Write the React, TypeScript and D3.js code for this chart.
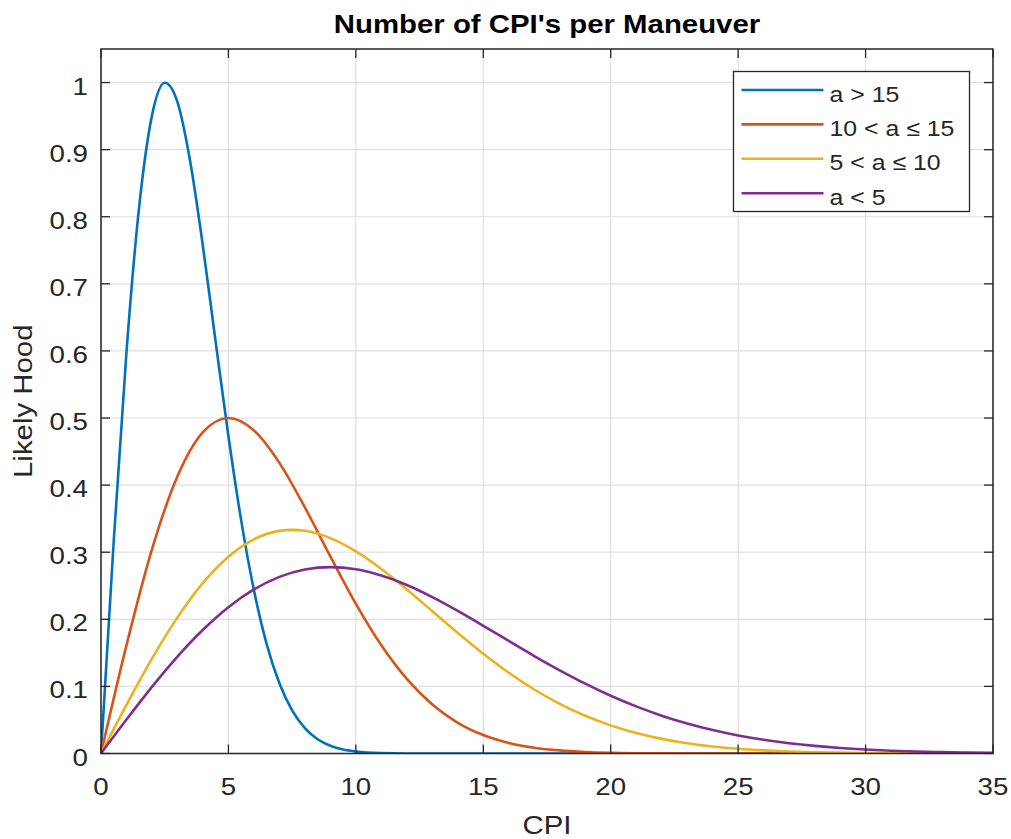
import React from 'react';
import * as d3 from 'd3';

// ---- data ----
const seriesNames = ['a > 15', '10 < a \u2264 15', '5 < a \u2264 10', 'a < 5'];
const seriesColors = ['#0072BD', '#D95319', '#EDB120', '#7E2F8E'];

const blueX = [0, 0.5, 1, 1.5, 2, 2.5, 3, 3.5, 4, 4.5, 5, 5.5, 6, 6.5, 7, 7.5, 8, 8.5, 9, 9.5, 10, 11, 12, 15, 20, 25, 30, 35];
const blueY = [0, 0.3171, 0.5987, 0.8158, 0.9507, 0.9996, 0.9709, 0.8823, 0.7558, 0.6132, 0.4728, 0.3474, 0.2435, 0.1631, 0.1046, 0.0642, 0.0377, 0.0212, 0.0115, 0.0059, 0.003, 0.0006, 0.0001, 0, 0, 0, 0, 0];

const orangeX = [0, 1, 2, 3, 4, 5, 6, 7, 8, 9, 10, 11, 12, 13, 14, 15, 16, 17, 18, 19, 20, 22, 25, 30, 35];
const orangeY = [0, 0.1616, 0.3044, 0.4131, 0.4789, 0.5, 0.4815, 0.4332, 0.3667, 0.2937, 0.2231, 0.1613, 0.1111, 0.073, 0.0458, 0.0275, 0.0158, 0.0087, 0.0046, 0.0023, 0.0011, 0.0002, 0, 0, 0];

const yellowX = [0, 1, 2, 3, 4, 5, 6, 7, 7.5, 8, 9, 10, 11, 12, 13, 14, 15, 16, 17, 18, 19, 20, 21, 22, 23, 24, 25, 26, 27, 28, 30, 32, 35];
const yellowY = [0, 0.0726, 0.1414, 0.2029, 0.2543, 0.2934, 0.3192, 0.3318, 0.3333, 0.3319, 0.321, 0.3012, 0.275, 0.2445, 0.2121, 0.1797, 0.1488, 0.1204, 0.0954, 0.074, 0.0562, 0.0419, 0.0305, 0.0218, 0.0153, 0.0105, 0.0071, 0.0047, 0.003, 0.0019, 0.0007, 0.0003, 0.0001];

const purpleX = [0, 1, 2, 3, 4, 5, 6, 7, 8, 9, 10, 11, 12, 13, 14, 15, 16, 17, 18, 19, 20, 21, 22, 23, 24, 25, 26, 27, 28, 29, 30, 31, 32, 33, 34, 35];
const purpleY = [0, 0.0506, 0.0993, 0.1444, 0.1844, 0.2181, 0.2445, 0.2633, 0.2742, 0.2778, 0.2745, 0.2652, 0.2511, 0.2331, 0.2125, 0.1903, 0.1677, 0.1453, 0.124, 0.1041, 0.0861, 0.0702, 0.0564, 0.0447, 0.0349, 0.0268, 0.0204, 0.0153, 0.0113, 0.0082, 0.0059, 0.0042, 0.0029, 0.002, 0.0014, 0.0009];

const xTicks = [0, 5, 10, 15, 20, 25, 30, 35];
const xTickLabels = ['0', '5', '10', '15', '20', '25', '30', '35'];
const yTicks = [0, 0.1, 0.2, 0.3, 0.4, 0.5, 0.6, 0.7, 0.8, 0.9, 1];
const yTickLabels = ['0', '0.1', '0.2', '0.3', '0.4', '0.5', '0.6', '0.7', '0.8', '0.9', '1'];

const titleText = "Number of CPI's per Maneuver";
const xLabelText = 'CPI';
const yLabelText = 'Likely Hood';

// ---- layout ----
const W = 1011;
const H = 839;
const L = 101, R = 993, T = 49, B = 753.5;
const FONT = '"Liberation Sans", Arial, Helvetica, sans-serif';
const INK = '#262626';
const SX = 1.13;

const xs = d3.scaleLinear().domain([0, 35]).range([L, R]);
const ys = d3.scaleLinear().domain([0, 1.05]).range([B, T]);

function Txt(props: { x: number; y: number; text: string; size: number; weight?: string; anchor?: string; rotate?: number; fill?: string }) {
  const { x, y, text, size, weight = 'normal', anchor = 'start', rotate = 0, fill = INK } = props;
  return (
    <text
      transform={`translate(${x},${y}) rotate(${rotate}) scale(${SX},1)`}
      fontFamily={FONT}
      fontSize={size}
      fontWeight={weight}
      textAnchor={anchor}
      fill={fill}
    >
      {text}
    </text>
  );
}

export default function App() {
  const series = [
    { xs: blueX, ys: blueY },
    { xs: orangeX, ys: orangeY },
    { xs: yellowX, ys: yellowY },
    { xs: purpleX, ys: purpleY },
  ];
  const line = d3
    .line<[number, number]>()
    .x((d) => xs(d[0]))
    .y((d) => ys(d[1]))
    .curve(d3.curveMonotoneX);

  const tickLen = 9;
  const legX = 733.5, legY = 71.5, legW = 236, legH = 140;
  const rowY = (i: number) => 90 + i * 34.4;

  return (
    <svg width={W} height={H} style={{ position: 'absolute', left: 0, top: 0, display: 'block', background: '#fff' }}>
      <rect x={0} y={0} width={W} height={H} fill="#fff" />
      <defs>
        <clipPath id="plotclip">
          <rect x={L} y={T} width={R - L} height={B - T} />
        </clipPath>
      </defs>
      {/* grid */}
      <g stroke="#dfdfdf" strokeWidth={1.2}>
        {xTicks.map((t) => (
          <line key={'gx' + t} x1={xs(t)} x2={xs(t)} y1={T} y2={B} />
        ))}
        {yTicks.map((t) => (
          <line key={'gy' + t} x1={L} x2={R} y1={ys(t)} y2={ys(t)} />
        ))}
      </g>
      {/* curves */}
      <g clipPath="url(#plotclip)" fill="none" strokeWidth={2.6} strokeLinejoin="round">
        {series.map((s, i) => (
          <path
            key={i}
            d={line(s.xs.map((v, j) => [v, s.ys[j]] as [number, number])) || ''}
            stroke={seriesColors[i]}
          />
        ))}
      </g>
      {/* axes box */}
      <rect x={L} y={T} width={R - L} height={B - T} fill="none" stroke={INK} strokeWidth={1.5} />
      {/* ticks */}
      <g stroke={INK} strokeWidth={1.3}>
        {xTicks.map((t) => (
          <g key={'tx' + t}>
            <line x1={xs(t)} x2={xs(t)} y1={B} y2={B - tickLen} />
            <line x1={xs(t)} x2={xs(t)} y1={T} y2={T + tickLen} />
          </g>
        ))}
        {yTicks.map((t) => (
          <g key={'ty' + t}>
            <line x1={L} x2={L + tickLen} y1={ys(t)} y2={ys(t)} />
            <line x1={R} x2={R - tickLen} y1={ys(t)} y2={ys(t)} />
          </g>
        ))}
      </g>
      {/* tick labels */}
      {xTicks.map((t, i) => (
        <Txt key={'lx' + t} x={xs(t)} y={B + 41} text={xTickLabels[i]} size={24.5} anchor="middle" />
      ))}
      {yTicks.map((t, i) => (
        <Txt key={'ly' + t} x={L - 13} y={ys(t) + 12} text={yTickLabels[i]} size={24.5} anchor="end" />
      ))}
      {/* axis labels & title */}
      <Txt x={(L + R) / 2} y={834} text={xLabelText} size={26} anchor="middle" />
      <Txt x={32} y={(T + B) / 2} text={yLabelText} size={26} anchor="middle" rotate={-90} />
      <Txt x={(L + R) / 2} y={32.5} text={titleText} size={26} weight="bold" anchor="middle" fill="#000" />
      {/* legend */}
      <rect x={legX} y={legY} width={legW} height={legH} fill="#fff" stroke={INK} strokeWidth={1.3} />
      {seriesNames.map((n, i) => (
        <g key={'leg' + i}>
          <line x1={741.5} x2={823.5} y1={rowY(i)} y2={rowY(i)} stroke={seriesColors[i]} strokeWidth={2.6} />
          <Txt x={829.5} y={rowY(i) + 11.5} text={n} size={22} />
        </g>
      ))}
    </svg>
  );
}
